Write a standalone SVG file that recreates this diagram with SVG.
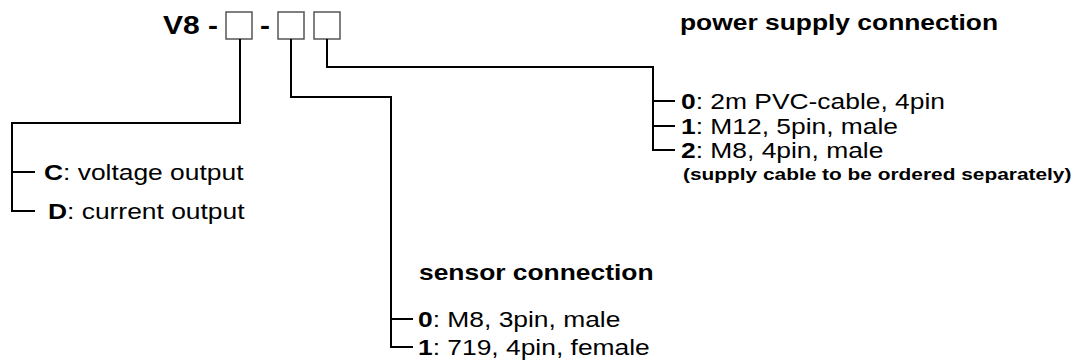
<svg xmlns="http://www.w3.org/2000/svg" width="1088" height="363" viewBox="0 0 1088 363">
<style>
text{font-family:"Liberation Sans",Arial,sans-serif;fill:#000}
.t{font-size:22px}
.h{font-size:22px;font-weight:bold}
.s{font-size:17.4px;font-weight:bold}
.v{font-size:25px;font-weight:bold}
.b{font-weight:bold}
.box{fill:#fff;stroke:#555;stroke-width:1.5}
.ln{fill:none;stroke:#000;stroke-width:2}
</style>
<rect width="1088" height="363" fill="#fff"/>
<g id="code">
<text class="v" transform="translate(163 34) scale(1.2 1)">V8</text>
<text class="v" text-anchor="middle" transform="translate(213 34) scale(1.2 1)">-</text>
<text class="v" text-anchor="middle" transform="translate(265 34) scale(1.2 1)">-</text>
<rect id="box1" class="box" x="226" y="12" width="26" height="27"/>
<rect id="box2" class="box" x="278" y="12" width="26" height="27"/>
<rect id="box3" class="box" x="314" y="12" width="26" height="27"/>
</g>
<g id="connectors">
<path class="ln" d="M240 39V123H12V211H35M12 172H35"/>
<path class="ln" d="M291 39V97H391V347H413M391 319H413"/>
<path class="ln" d="M327 39V67H653V150H675M653 101H675M653 126H675"/>
</g>
<g id="output">
<text class="t" transform="translate(44 180) scale(1.2 1)"><tspan class="b">C</tspan>: voltage output</text>
<text class="t" transform="translate(48 219) scale(1.2 1)"><tspan class="b">D</tspan>: current output</text>
</g>
<g id="sensor">
<text class="h" transform="translate(419 280) scale(1.2 1)">sensor connection</text>
<text class="t" transform="translate(418 327) scale(1.2 1)"><tspan class="b">0</tspan>: M8, 3pin, male</text>
<text class="t" transform="translate(418 355) scale(1.2 1)"><tspan class="b">1</tspan>: 719, 4pin, female</text>
</g>
<g id="power">
<text class="h" transform="translate(680 30) scale(1.2 1)">power supply connection</text>
<text class="t" transform="translate(681 109) scale(1.2 1)"><tspan class="b">0</tspan>: 2m PVC-cable, 4pin</text>
<text class="t" transform="translate(681 134) scale(1.2 1)"><tspan class="b">1</tspan>: M12, 5pin, male</text>
<text class="t" transform="translate(681 158) scale(1.2 1)"><tspan class="b">2</tspan>: M8, 4pin, male</text>
<text class="s" transform="translate(683 180) scale(1.2 1)">(supply cable to be ordered separately)</text>
</g>
</svg>
